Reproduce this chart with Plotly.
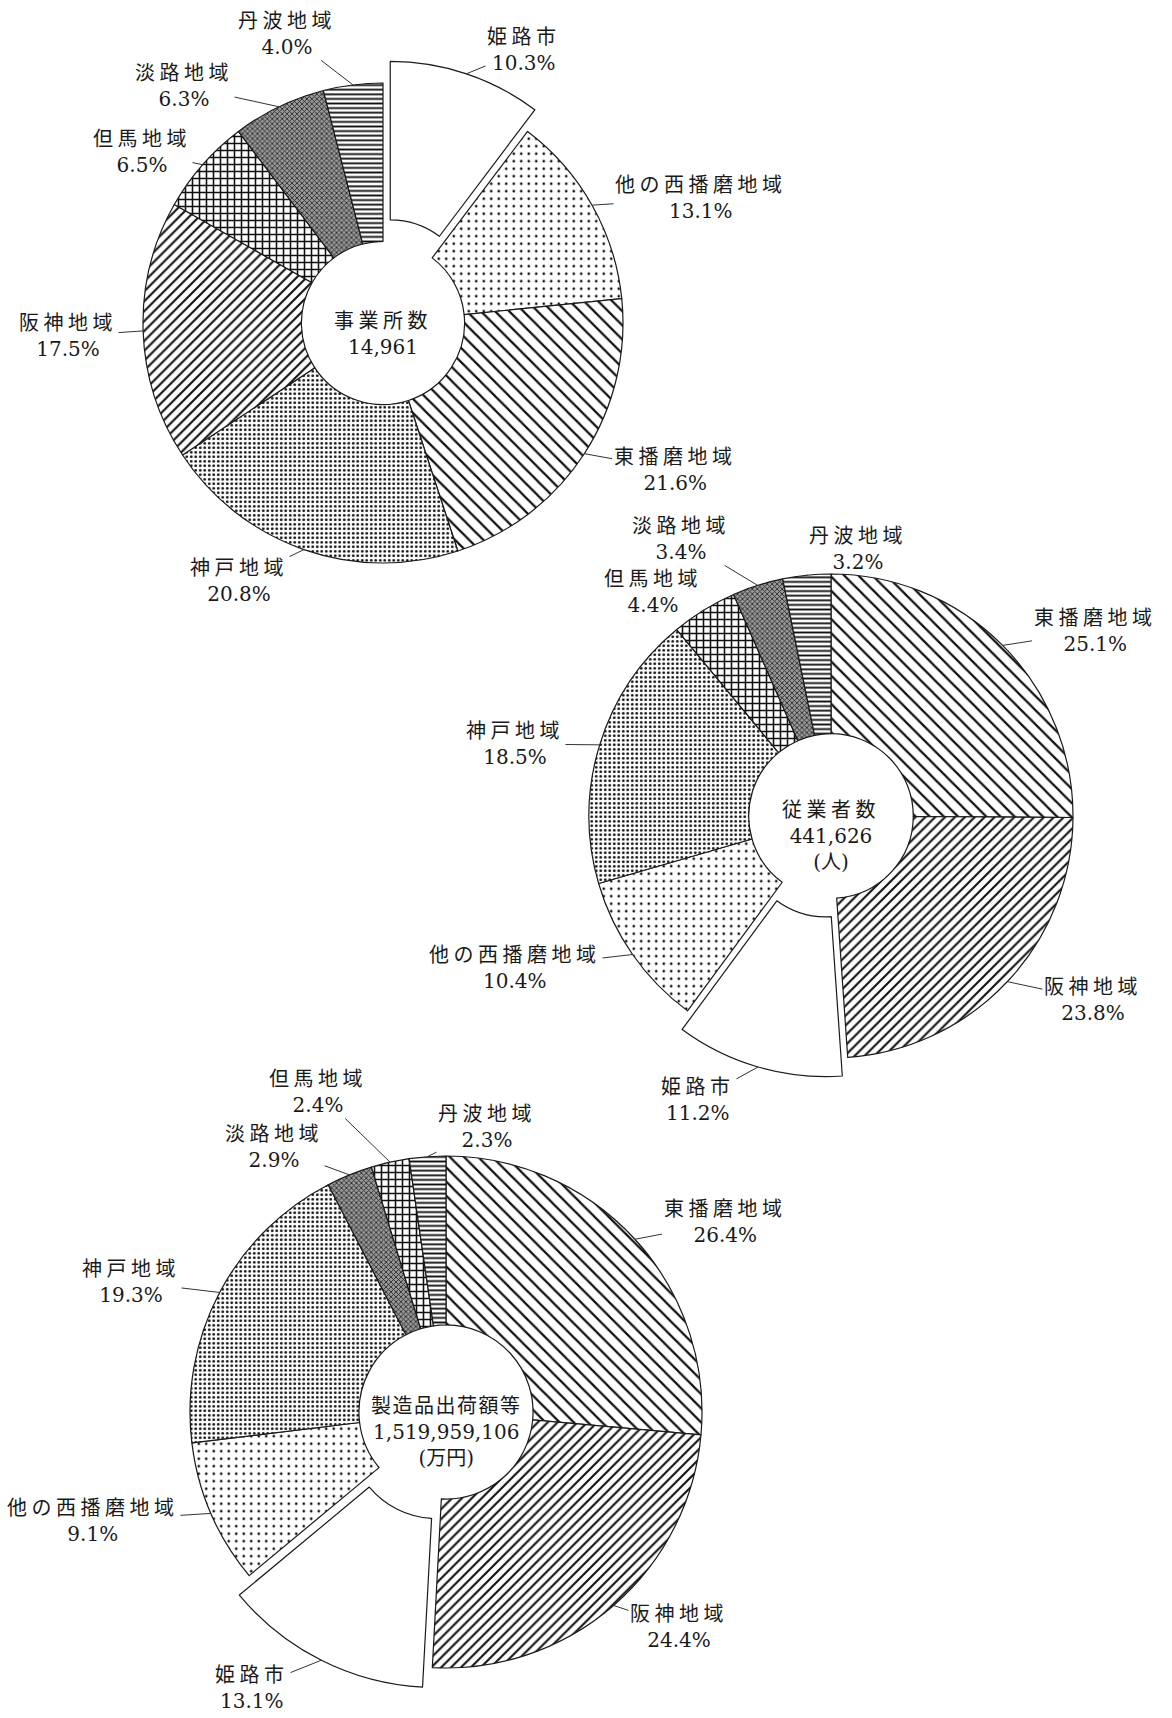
import math
import plotly.graph_objects as go

W, H = 1172, 1718

# ---------------- data ----------------
regions1 = ["姫路市", "他の西播磨地域", "東播磨地域", "神戸地域", "阪神地域", "但馬地域", "淡路地域", "丹波地域"]
values1 = [10.3, 13.1, 21.6, 20.8, 17.5, 6.5, 6.3, 4.0]
center1 = ["事業所数", "14,961"]

regions2 = ["東播磨地域", "阪神地域", "姫路市", "他の西播磨地域", "神戸地域", "但馬地域", "淡路地域", "丹波地域"]
values2 = [25.1, 23.8, 11.2, 10.4, 18.5, 4.4, 3.4, 3.2]
center2 = ["従業者数", "441,626", "(人)"]

regions3 = ["東播磨地域", "阪神地域", "姫路市", "他の西播磨地域", "神戸地域", "淡路地域", "但馬地域", "丹波地域"]
values3 = [26.4, 24.4, 13.1, 9.1, 19.3, 2.9, 2.4, 2.3]
center3 = ["製造品出荷額等", "1,519,959,106", "(万円)"]

# ---------------- styles ----------------
STYLE = {
    "姫路市":        dict(shape="",  size=8,  solidity=0.2,  fg="#000000", bg="#ffffff"),
    "他の西播磨地域": dict(shape=".", size=7.5, solidity=0.1, fg="#111111", bg="#ffffff"),
    "東播磨地域":     dict(shape="\\", size=10, solidity=0.22, fg="#111111", bg="#ffffff"),
    "神戸地域":       dict(shape=".", size=4.5, solidity=0.3, fg="#111111", bg="#ffffff"),
    "阪神地域":       dict(shape="/", size=7,  solidity=0.3,  fg="#111111", bg="#ffffff"),
    "但馬地域":       dict(shape="+", size=7,  solidity=0.4,  fg="#111111", bg="#ffffff"),
    "淡路地域":       dict(shape="x", size=3.5, solidity=0.45, fg="#2a2a2a", bg="#999999"),
    "丹波地域":       dict(shape="-", size=4.6, solidity=0.4,  fg="#111111", bg="#ffffff"),
}

FONT = "'DejaVu Serif', 'Noto Sans CJK JP', serif"
TXT = "#1a1a1a"
FS = 20


def jp(s, sp=4.5):
    return f"<span style='letter-spacing:{sp}px'>{s}</span>"


# pie geometry (pixels): center x, center y, radius, pull of 姫路市, hole
PIES = [
    dict(regions=regions1, values=values1, center=center1, cx=383, cy=323, R=240, pull=0.095, hole=0.34,
         labels={"姫路市": (524, 50), "他の西播磨地域": (701, 198), "東播磨地域": (675, 470),
                 "神戸地域": (239, 581), "阪神地域": (68, 336), "但馬地域": (142, 152),
                 "淡路地域": (184, 86), "丹波地域": (287, 34)},
         ctext_y=334),
    dict(regions=regions2, values=values2, center=center2, cx=831, cy=816, R=242, pull=0.08, hole=0.34,
         labels={"東播磨地域": (1095, 631), "阪神地域": (1093, 1000), "姫路市": (698, 1100),
                 "他の西播磨地域": (515, 968), "神戸地域": (515, 744), "但馬地域": (653, 592),
                 "淡路地域": (681, 539), "丹波地域": (858, 549)},
         ctext_y=836),
    dict(regions=regions3, values=values3, center=center3, cx=446, cy=1412, R=256, pull=0.085, hole=0.34,
         labels={"東播磨地域": (725, 1222), "阪神地域": (679, 1627), "姫路市": (252, 1688),
                 "他の西播磨地域": (93, 1521), "神戸地域": (131, 1282), "淡路地域": (274, 1147),
                 "但馬地域": (318, 1092), "丹波地域": (487, 1127)},
         ctext_y=1432),
]

fig = go.Figure()
annotations = []

for p in PIES:
    regs, vals = p["regions"], p["values"]
    pulls = [p["pull"] if r == "姫路市" else 0 for r in regs]
    S = 2 * p["R"] * (1 + max(pulls))
    dom_x = [(p["cx"] - S / 2) / W, (p["cx"] + S / 2) / W]
    dom_y = [1 - (p["cy"] + S / 2) / H, 1 - (p["cy"] - S / 2) / H]
    fig.add_trace(go.Pie(
        labels=regs, values=vals, sort=False, direction="clockwise", rotation=0,
        hole=p["hole"], pull=pulls, textinfo="none", hoverinfo="label+value",
        showlegend=False, domain=dict(x=dom_x, y=dom_y),
        marker=dict(
            colors=[STYLE[r]["bg"] for r in regs],
            line=dict(color="#1a1a1a", width=1.2),
            pattern=dict(
                shape=[STYLE[r]["shape"] for r in regs],
                size=[STYLE[r]["size"] for r in regs],
                solidity=[STYLE[r]["solidity"] for r in regs],
                fgcolor=[STYLE[r]["fg"] for r in regs],
                bgcolor=[STYLE[r]["bg"] for r in regs],
                fillmode="replace",
            ),
        ),
    ))

    total = sum(vals)
    cum = 0.0
    for r, v, pl in zip(regs, vals, pulls):
        th = 2 * math.pi * (cum + v / 2) / total
        cum += v
        rr = p["R"] * (1 + pl)
        px = p["cx"] + rr * math.sin(th)
        py = p["cy"] - rr * math.cos(th)
        lx, ly = p["labels"][r]
        annotations.append(dict(
            x=px / W, y=1 - py / H, xref="paper", yref="paper",
            ax=lx - px, ay=ly - py, axref="pixel", ayref="pixel",
            xanchor="center", yanchor="middle",
            text=f"{jp(r)}<br>{v:.1f}%", showarrow=True, arrowhead=0,
            arrowwidth=1, arrowcolor="#333333", standoff=0,
            font=dict(family=FONT, size=FS, color=TXT), align="center",
        ))

    c = p["center"]
    first = jp(c[0], 4.5 if len(c[0]) <= 4 else 1.5)
    ctext = "<br>".join([first] + c[1:])
    annotations.append(dict(
        x=p["cx"] / W, y=1 - p["ctext_y"] / H, xref="paper", yref="paper",
        xanchor="center", yanchor="middle",
        text=ctext, showarrow=False,
        font=dict(family=FONT, size=FS, color=TXT), align="center",
    ))

fig.update_layout(
    width=W, height=H,
    margin=dict(l=0, r=0, t=0, b=0),
    paper_bgcolor="#ffffff", plot_bgcolor="#ffffff",
    annotations=annotations,
)

fig.write_html(
    "out.html",
    config={"displayModeBar": False},
    post_script="document.body.style.margin='0px';document.body.style.overflow='hidden';",
)
